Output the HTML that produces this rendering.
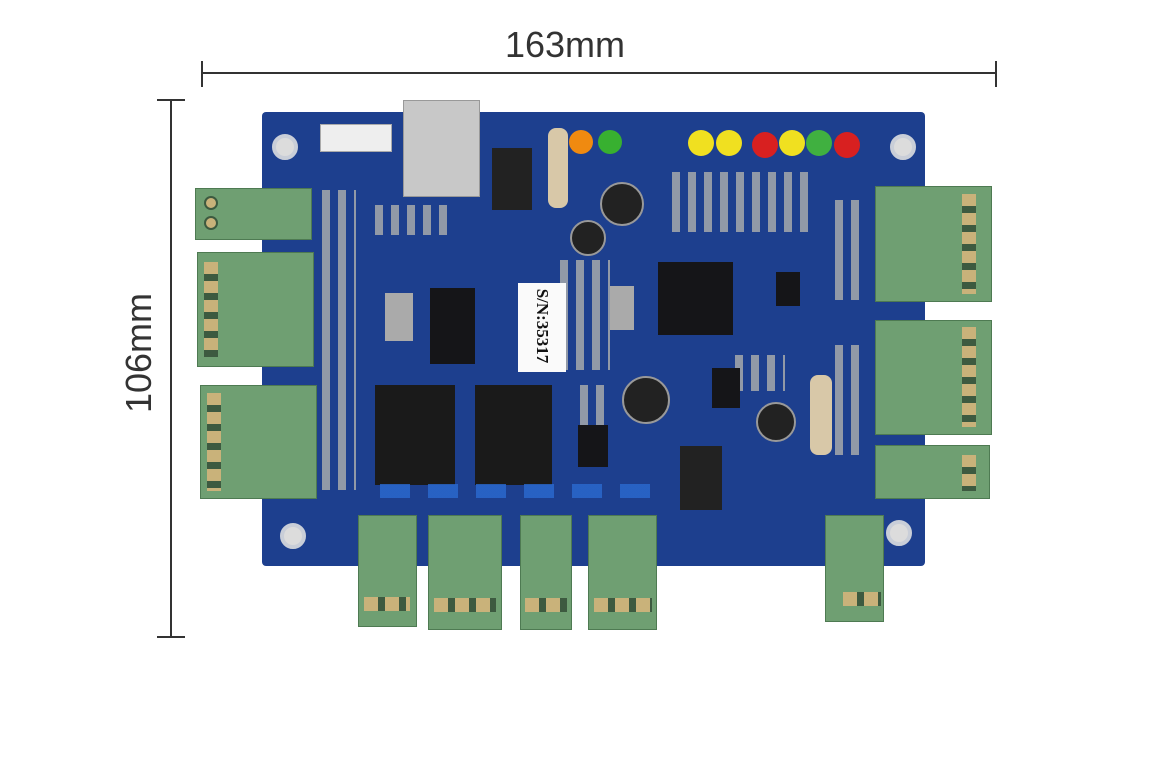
<!DOCTYPE html>
<html><head><meta charset="utf-8"><style>
body{margin:0;background:#fff;width:1168px;height:772px;position:relative;overflow:hidden;font-family:"Liberation Sans",sans-serif}
.a{position:absolute}
.board{background:#1d3f8e;border-radius:4px}
.tb{background:#6f9f72;border:1px solid #4e7a52}
.sc{background:#c9b27a;border-radius:50%;border:2px solid #3d5a40}
.blk{background:#151518}
.hole{background:#dcdcdc;border-radius:50%;border:4px solid #c9ced8}
.led{border-radius:50%}
.smd{background:#c8c8c0}
.pat{background:repeating-linear-gradient(90deg,#b8b8b0 0 8px,transparent 8px 16px),repeating-linear-gradient(0deg,transparent 0 10px,#1d3f8e 10px 18px);background-blend-mode:normal;opacity:.75}
</style></head><body>
<!-- dimension lines -->
<div class="a" style="left:201px;top:72px;width:796px;height:2px;background:#333"></div>
<div class="a" style="left:201px;top:61px;width:2px;height:26px;background:#333"></div>
<div class="a" style="left:995px;top:61px;width:2px;height:26px;background:#333"></div>
<div class="a" style="left:480px;top:24px;width:170px;text-align:center;font-size:36px;color:#333">163mm</div>
<div class="a" style="left:170px;top:100px;width:2px;height:538px;background:#333"></div>
<div class="a" style="left:157px;top:99px;width:28px;height:2px;background:#333"></div>
<div class="a" style="left:157px;top:636px;width:28px;height:2px;background:#333"></div>
<div class="a" style="left:54px;top:332px;width:170px;text-align:center;font-size:36px;color:#333;transform:rotate(-90deg)">106mm</div>

<!-- board -->
<div class="a board" style="left:262px;top:112px;width:663px;height:454px"></div>
<!-- small component texture -->
<div class="a pat" style="left:672px;top:172px;width:140px;height:60px"></div>
<div class="a pat" style="left:835px;top:200px;width:32px;height:100px"></div>
<div class="a pat" style="left:835px;top:345px;width:32px;height:110px"></div>
<div class="a pat" style="left:322px;top:190px;width:34px;height:300px"></div>
<div class="a pat" style="left:375px;top:205px;width:80px;height:30px"></div>
<div class="a pat" style="left:560px;top:260px;width:50px;height:110px"></div>
<div class="a pat" style="left:735px;top:355px;width:50px;height:36px"></div>
<div class="a pat" style="left:580px;top:385px;width:30px;height:40px"></div>
<div class="a hole" style="left:272px;top:134px;width:18px;height:18px"></div>
<div class="a hole" style="left:890px;top:134px;width:18px;height:18px"></div>
<div class="a hole" style="left:280px;top:523px;width:18px;height:18px"></div>
<div class="a hole" style="left:886px;top:520px;width:18px;height:18px"></div>

<!-- ethernet -->
<div class="a" style="left:403px;top:100px;width:75px;height:95px;background:#c8c8c8;border:1px solid #999"></div>
<div class="a" style="left:320px;top:124px;width:70px;height:26px;background:#eee;border:1px solid #aaa"></div>
<!-- regulators -->
<div class="a" style="left:492px;top:148px;width:40px;height:62px;background:#222"></div>
<div class="a" style="left:680px;top:446px;width:42px;height:64px;background:#222"></div>
<div class="a" style="left:548px;top:128px;width:20px;height:80px;background:#d8c8a8;border-radius:8px"></div>
<div class="a" style="left:810px;top:375px;width:22px;height:80px;background:#d8c8a8;border-radius:8px"></div>
<!-- caps -->
<div class="a" style="left:600px;top:182px;width:40px;height:40px;border-radius:50%;background:#222;border:2px solid #999"></div>
<div class="a" style="left:570px;top:220px;width:32px;height:32px;border-radius:50%;background:#222;border:2px solid #999"></div>
<div class="a" style="left:622px;top:376px;width:44px;height:44px;border-radius:50%;background:#222;border:2px solid #999"></div>
<div class="a" style="left:756px;top:402px;width:36px;height:36px;border-radius:50%;background:#222;border:2px solid #999"></div>
<!-- LEDs -->
<div class="a led" style="left:569px;top:130px;width:24px;height:24px;background:#f08a10"></div>
<div class="a led" style="left:598px;top:130px;width:24px;height:24px;background:#38b030"></div>
<div class="a led" style="left:688px;top:130px;width:26px;height:26px;background:#f0e020"></div>
<div class="a led" style="left:716px;top:130px;width:26px;height:26px;background:#f0e020"></div>
<div class="a led" style="left:752px;top:132px;width:26px;height:26px;background:#d82020"></div>
<div class="a led" style="left:779px;top:130px;width:26px;height:26px;background:#f0e020"></div>
<div class="a led" style="left:806px;top:130px;width:26px;height:26px;background:#40b040"></div>
<div class="a led" style="left:834px;top:132px;width:26px;height:26px;background:#d82020"></div>
<!-- chips -->
<div class="a blk" style="left:658px;top:262px;width:75px;height:73px"></div>
<div class="a blk" style="left:430px;top:288px;width:45px;height:76px"></div>
<div class="a blk" style="left:776px;top:272px;width:24px;height:34px"></div>
<div class="a blk" style="left:578px;top:425px;width:30px;height:42px"></div>
<div class="a blk" style="left:712px;top:368px;width:28px;height:40px"></div>
<div class="a smd" style="left:385px;top:293px;width:28px;height:48px;background:#aaa"></div>
<div class="a smd" style="left:610px;top:286px;width:24px;height:44px;background:#aaa"></div>
<!-- relays -->
<div class="a blk" style="left:375px;top:385px;width:80px;height:100px;background:#1a1a1a"></div>
<div class="a blk" style="left:475px;top:385px;width:77px;height:100px;background:#1a1a1a"></div>
<!-- SN label -->
<div class="a" style="left:518px;top:283px;width:48px;height:89px;background:#fafafa"></div>
<div class="a" style="left:497px;top:316px;width:90px;text-align:center;font:bold 17px 'Liberation Serif',serif;color:#111;transform:rotate(90deg)">S/N:35317</div>
<!-- blue diodes -->
<div class="a" style="left:380px;top:484px;width:270px;height:14px;background:repeating-linear-gradient(90deg,#2a6ad0 0 30px,transparent 30px 48px);opacity:.8"></div>

<!-- terminal blocks left -->
<div class="a tb" style="left:195px;top:188px;width:115px;height:50px"></div>
<div class="a tb" style="left:197px;top:252px;width:115px;height:113px"></div>
<div class="a tb" style="left:200px;top:385px;width:115px;height:112px"></div>
<!-- right -->
<div class="a tb" style="left:875px;top:186px;width:115px;height:114px"></div>
<div class="a tb" style="left:875px;top:320px;width:115px;height:113px"></div>
<div class="a tb" style="left:875px;top:445px;width:113px;height:52px"></div>
<!-- bottom -->
<div class="a tb" style="left:358px;top:515px;width:57px;height:110px"></div>
<div class="a tb" style="left:428px;top:515px;width:72px;height:113px"></div>
<div class="a tb" style="left:520px;top:515px;width:50px;height:113px"></div>
<div class="a tb" style="left:588px;top:515px;width:67px;height:113px"></div>
<div class="a tb" style="left:825px;top:515px;width:57px;height:105px"></div>
<!-- screws left -->
<div class="a sc" style="left:204px;top:196px;width:10px;height:10px"></div>
<div class="a sc" style="left:204px;top:216px;width:10px;height:10px"></div>
<div class="a" style="left:204px;top:262px;width:14px;height:95px;background:repeating-linear-gradient(180deg,#c9b27a 0 12px,#3d5a40 12px 19px)"></div>
<div class="a" style="left:207px;top:393px;width:14px;height:98px;background:repeating-linear-gradient(180deg,#c9b27a 0 12px,#3d5a40 12px 19px)"></div>
<div class="a" style="left:962px;top:194px;width:14px;height:100px;background:repeating-linear-gradient(180deg,#c9b27a 0 12px,#3d5a40 12px 19px)"></div>
<div class="a" style="left:962px;top:327px;width:14px;height:100px;background:repeating-linear-gradient(180deg,#c9b27a 0 12px,#3d5a40 12px 19px)"></div>
<div class="a" style="left:962px;top:455px;width:14px;height:36px;background:repeating-linear-gradient(180deg,#c9b27a 0 12px,#3d5a40 12px 19px)"></div>
<!-- screws bottom -->
<div class="a" style="left:364px;top:597px;width:46px;height:14px;background:repeating-linear-gradient(90deg,#c9b27a 0 14px,#3d5a40 14px 21px)"></div>
<div class="a" style="left:434px;top:598px;width:62px;height:14px;background:repeating-linear-gradient(90deg,#c9b27a 0 14px,#3d5a40 14px 21px)"></div>
<div class="a" style="left:525px;top:598px;width:42px;height:14px;background:repeating-linear-gradient(90deg,#c9b27a 0 14px,#3d5a40 14px 21px)"></div>
<div class="a" style="left:594px;top:598px;width:58px;height:14px;background:repeating-linear-gradient(90deg,#c9b27a 0 14px,#3d5a40 14px 21px)"></div>
<div class="a" style="left:843px;top:592px;width:38px;height:14px;background:repeating-linear-gradient(90deg,#c9b27a 0 14px,#3d5a40 14px 21px)"></div>
</body></html>
